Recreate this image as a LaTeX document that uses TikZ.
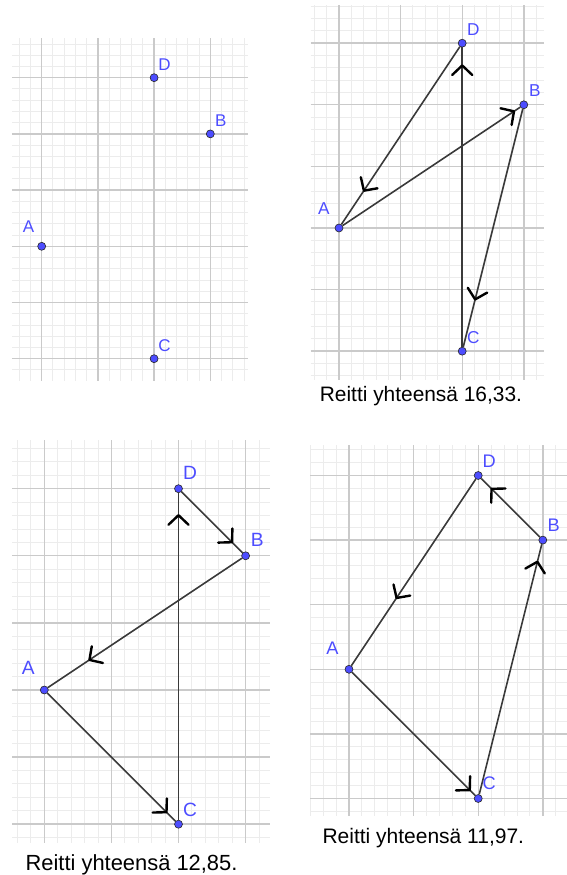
\documentclass[tikz,border=0pt]{standalone}
\usepackage{fontspec}
\setmainfont{Liberation Sans}
\usetikzlibrary{decorations.markings}
\definecolor{ggblue}{RGB}{77,77,255}
\definecolor{ggline}{RGB}{58,58,58}
\definecolor{gmaj}{RGB}{202,202,202}
\definecolor{gmin}{RGB}{236,236,236}
\begin{document}
\begin{tikzpicture}[x=1pt,y=1pt,
  ggpt/.style={circle,fill=ggblue,draw=black!85,line width=0.6pt,minimum size=8pt,inner sep=0pt},
  lbl/.style={text=ggblue,inner sep=0pt,font=\fontsize{#1}{#1}\selectfont},
  total/.style={anchor=base,inner sep=0pt,font=\fontsize{#1}{#1}\selectfont},
  seg/.style={draw=ggline,line width=1.6pt},
  mk/.style={postaction={decorate,decoration={markings,mark=at position #1 with {\draw[black,line width=2.4pt,line cap=round,line join=round] (-9.5pt,10pt) -- (0pt,0pt) -- (-9.5pt,-10pt);}}}},
  finegrid/.style={gmin,line width=0.9pt,step=0.2},
  coarsegrid/.style={gmaj,line width=1.4pt,step=1}]
\useasboundingbox (0,0) rectangle (567,875);
% panel 1: the four points
\begin{scope}[shift={(41.7,628.7)},x=56.2pt,y=56.2pt]
  \draw[finegrid] (-0.53,-2.39) grid (3.67,3.70);
  \draw[coarsegrid] (-0.53,-2.39) grid (3.67,3.70);
  \node[ggpt] (A1) at (0,0){};
  \node[ggpt] (B1) at (3,2){};
  \node[ggpt] (C1) at (2,-2){};
  \node[ggpt] (D1) at (2,3){};
  \node[lbl=17] (lA1) at (-0.235,0.35){A};
  \node[lbl=17] (lB1) at (3.185,2.24){B};
  \node[lbl=17] (lC1) at (2.185,-1.76){C};
  \node[lbl=17] (lD1) at (2.185,3.24){D};
\end{scope}
% panel 2: A-B-C-D-A
\begin{scope}[shift={(339,647)},x=61.6pt,y=61.6pt]
  \draw[finegrid] (-0.46,-2.46) grid (3.33,3.62);
  \draw[coarsegrid] (-0.46,-2.46) grid (3.33,3.62);
  \node[ggpt] (A2) at (0,0){};
  \node[ggpt] (B2) at (3,2){};
  \node[ggpt] (C2) at (2,-2){};
  \node[ggpt] (D2) at (2,3){};
  \draw[seg,mk=0.965] (A2) -- (B2);
  \draw[seg,mk=0.80] (B2) -- (C2);
  \draw[seg,mk=0.94] (C2) -- (D2);
  \draw[seg,mk=0.81] (D2) -- (A2);
  \node[lbl=17.2] (lA2) at (-0.245,0.32){A};
  \node[lbl=17.2] (lB2) at (3.18,2.23){B};
  \node[lbl=17.2] (lC2) at (2.18,-1.78){C};
  \node[lbl=17.2] (lD2) at (2.18,3.22){D};
  \node[total=20.9] (t2) at (1.33,-2.82){Reitti yhteensä 16,33.};
\end{scope}
% panel 3: C-D-B-A-C
\begin{scope}[shift={(44.3,185)},x=67.1pt,y=67.1pt]
  \draw[finegrid] (-0.48,-2.28) grid (3.36,3.72);
  \draw[coarsegrid] (-0.48,-2.28) grid (3.36,3.72);
  \node[ggpt] (A3) at (0,0){};
  \node[ggpt] (B3) at (3,2){};
  \node[ggpt] (C3) at (2,-2){};
  \node[ggpt] (D3) at (2,3){};
  \draw[seg,mk=0.932] (C3) -- (D3);
  \draw[seg,mk=0.83] (D3) -- (B3);
  \draw[seg,mk=0.786] (B3) -- (A3);
  \draw[seg,mk=0.93] (A3) -- (C3);
  \node[lbl=19.2] (lA3) at (-0.238,0.323){A};
  \node[lbl=19.2] (lB3) at (3.174,2.235){B};
  \node[lbl=19.2] (lC3) at (2.174,-1.78){C};
  \node[lbl=19.2] (lD3) at (2.174,3.24){D};
  \node[total=21.9] (t3) at (1.30,-2.693){Reitti yhteensä 12,85.};
\end{scope}
% panel 4: C-B-D-A-C
\begin{scope}[shift={(349,205.7)},x=64.6pt,y=64.6pt]
  \draw[finegrid] (-0.60,-2.27) grid (3.375,3.47);
  \draw[coarsegrid] (-0.60,-2.27) grid (3.375,3.47);
  \node[ggpt] (A4) at (0,0){};
  \node[ggpt] (B4) at (3,2){};
  \node[ggpt] (C4) at (2,-2){};
  \node[ggpt] (D4) at (2,3){};
  \draw[seg,mk=0.93] (C4) -- (B4);
  \draw[seg,mk=0.826] (B4) -- (D4);
  \draw[seg,mk=0.637] (D4) -- (A4);
  \draw[seg,mk=0.956] (A4) -- (C4);
  \node[lbl=18.2] (lA4) at (-0.258,0.325){A};
  \node[lbl=18.2] (lB4) at (3.17,2.23){B};
  \node[lbl=18.2] (lC4) at (2.17,-1.76){C};
  \node[lbl=18.2] (lD4) at (2.17,3.22){D};
  \node[total=21] (t4) at (1.15,-2.693){Reitti yhteensä 11,97.};
\end{scope}
\end{tikzpicture}
\end{document}
